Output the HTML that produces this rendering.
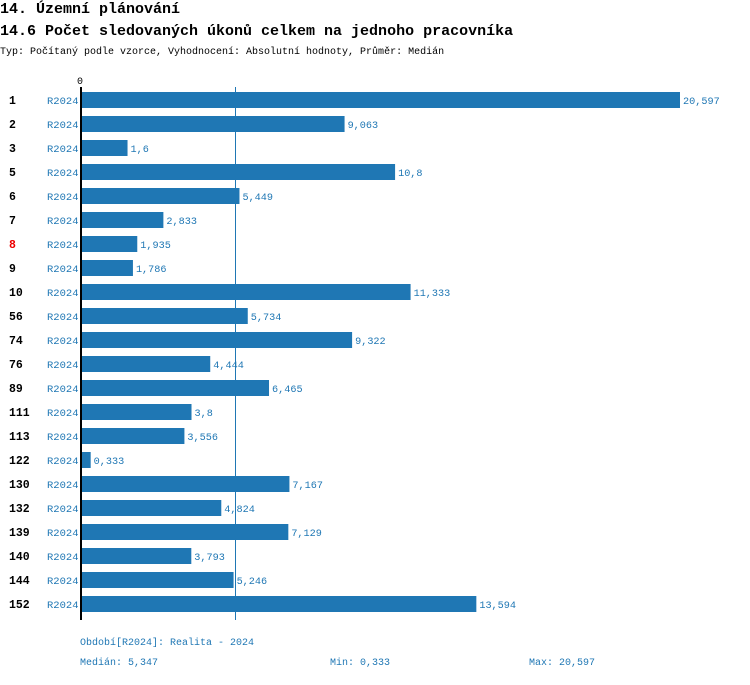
<!DOCTYPE html>
<html><head><meta charset="utf-8"><style>
body{margin:0;background:#fff;width:750px;height:680px;overflow:hidden}
text{font-family:"Liberation Mono","DejaVu Sans Mono",monospace}
</style></head><body>
<svg id="c" width="750" height="680">
<text x="0" y="13" font-size="15" font-weight="bold">14. Územní plánování</text>
<text x="0" y="35" font-size="15" font-weight="bold">14.6 Počet sledovaných úkonů celkem na jednoho pracovníka</text>
<text x="0" y="54" font-size="10">Typ: Počítaný podle vzorce, Vyhodnocení: Absolutní hodnoty, Průměr: Medián</text>
<text x="77" y="84" font-size="10">0</text>
<g id="bars"></g>
<line x1="81" y1="87" x2="81" y2="620" stroke="#000" stroke-width="2"/>
<line id="med" y1="87" y2="620" stroke="#1f77b4" stroke-width="1"/>
<text x="80" y="645" font-size="10" fill="#1f77b4">Období[R2024]: Realita - 2024</text>
<text x="80" y="665" font-size="10" fill="#1f77b4">Medián: 5,347</text>
<text x="330" y="665" font-size="10" fill="#1f77b4">Min: 0,333</text>
<text x="529" y="665" font-size="10" fill="#1f77b4">Max: 20,597</text>
</svg>
<script>
const categories=["1","2","3","5","6","7","8","9","10","56","74","76","89","111","113","122","130","132","139","140","144","152"];
const values=[20.597,9.063,1.6,10.8,5.449,2.833,1.935,1.786,11.333,5.734,9.322,4.444,6.465,3.8,3.556,0.333,7.167,4.824,7.129,3.793,5.246,13.594];
const valueLabels=["20,597","9,063","1,6","10,8","5,449","2,833","1,935","1,786","11,333","5,734","9,322","4,444","6,465","3,8","3,556","0,333","7,167","4,824","7,129","3,793","5,246","13,594"];
const highlighted=["8"];
const medianValue=5.347;
const NS="http://www.w3.org/2000/svg";
const x0=81,maxV=Math.max(...values),xs=v=>x0+v*(599/maxV);
const ys=i=>92+i*24;
document.getElementById('med').setAttribute('x1',Math.round(xs(medianValue))-1.5);
document.getElementById('med').setAttribute('x2',Math.round(xs(medianValue))-1.5);
const g=document.getElementById('bars');
function mk(tag,attrs,txt){const e=document.createElementNS(NS,tag);for(const k in attrs)e.setAttribute(k,attrs[k]);if(txt!=null)e.textContent=txt;g.appendChild(e);return e;}
categories.forEach((c,i)=>{
  const y=ys(i);
  const l=mk('text',{x:9,y:y+12,'font-size':11.5,'font-weight':'bold',fill:highlighted.includes(c)?'#e00':'#000'},c);
  
  
  const p=mk('text',{x:47,y:y+12,'font-size':10.5,fill:'#1f77b4'},'R2024');
  
  
  const b=mk('rect',{x:x0,y:y,width:xs(values[i])-x0,height:16,fill:'#1f77b4'});
  
  
  const v=mk('text',{x:xs(values[i])+3,y:y+12,'font-size':10.2,fill:'#1f77b4'},valueLabels[i]);
  
  
});
</script>
</body></html>
